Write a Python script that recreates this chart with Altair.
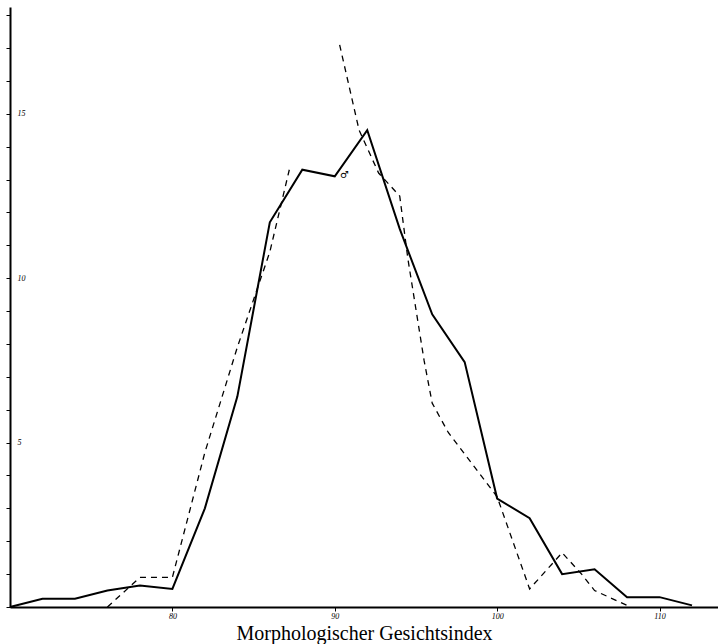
import altair as alt
import pandas as pd

# Male (solid) frequency polygon
male_x = [70, 72, 74, 76, 78, 80, 82, 84, 86, 88, 90, 92, 94, 96, 98, 100, 102, 104, 106, 108, 110, 112]
male_y = [0, 0.25, 0.25, 0.5, 0.65, 0.55, 3.0, 6.4, 11.7, 13.3, 13.1, 14.5, 11.5, 8.9, 7.45, 3.3, 2.7, 1.0, 1.15, 0.3, 0.3, 0.05]

# Female (dashed) curve, drawn in two pieces (gap near the peak)
fem_a_x = [76, 78, 80, 82, 84, 86, 87.2]
fem_a_y = [0, 0.9, 0.9, 4.7, 7.9, 10.8, 13.3]
fem_b_x = [90.3, 91.5, 92.7, 94, 94.5, 95.5, 96, 97, 100, 102, 104, 105.2, 106, 108]
fem_b_y = [17.1, 14.5, 13.2, 12.5, 10.6, 7.5, 6.2, 5.3, 3.35, 0.55, 1.65, 1.0, 0.5, 0.05]

x_ticks = [80, 90, 100, 110]
y_ticks = list(range(0, 19))
y_label_vals = [5, 10, 15]

male = pd.DataFrame({"x": male_x, "y": male_y})
fem = pd.concat([
    pd.DataFrame({"x": fem_a_x, "y": fem_a_y, "seg": "a"}),
    pd.DataFrame({"x": fem_b_x, "y": fem_b_y, "seg": "b"}),
])

xs = alt.Scale(domain=[70, 113.6], nice=False, zero=False)
ys = alt.Scale(domain=[0, 18.25], nice=False)

label_test = "||".join(f"datum.value=={v}" for v in y_label_vals)

x_axis = alt.Axis(values=x_ticks, tickCount=50, format="d", title="Morphologischer Gesichtsindex", grid=False,
                  labelFont="Liberation Serif", labelFontStyle="italic", labelFontSize=8,
                  labelColor="black", tickColor="black", domainColor="black", domainWidth=2,
                  tickSize=4, labelPadding=1, labelOverlap=False,
                  titleFont="Liberation Serif", titleFontSize=20, titleFontWeight="normal",
                  titleColor="black", titlePadding=3)
y_axis = alt.Axis(values=y_ticks, tickCount=50, format="d", title=None, grid=False, labelOverlap=False,
                  labelExpr=f"({label_test}) ? datum.label : ''",
                  labelFont="Liberation Serif", labelFontStyle="italic", labelFontSize=8,
                  labelColor="black", labelAlign="left", labelPadding=-11,
                  tickColor="black", domainColor="black", domainWidth=2, tickSize=4)

male_line = alt.Chart(male).mark_line(color="black", strokeWidth=2).encode(
    x=alt.X("x:Q", scale=xs, axis=x_axis),
    y=alt.Y("y:Q", scale=ys, axis=y_axis),
)
fem_line = alt.Chart(fem).mark_line(color="black", strokeWidth=1.3, strokeDash=[6, 5]).encode(
    x=alt.X("x:Q", scale=xs),
    y=alt.Y("y:Q", scale=ys),
    detail="seg:N",
)
sym = alt.Chart(pd.DataFrame({"x": [90.6], "y": [13.15], "t": ["♂"]})).mark_text(
    fontSize=10, font="DejaVu Sans", color="black").encode(
    x=alt.X("x:Q", scale=xs), y=alt.Y("y:Q", scale=ys), text="t:N")

chart = alt.layer(male_line, fem_line, sym).properties(
    width=708, height=600,
    padding={"left": 10, "top": 7, "right": 0, "bottom": 37},
    autosize=alt.AutoSizeParams(type="none"),
    background="white",
).configure_view(stroke=None)

chart.save("out.html", embed_options={"renderer": "svg", "actions": False})
